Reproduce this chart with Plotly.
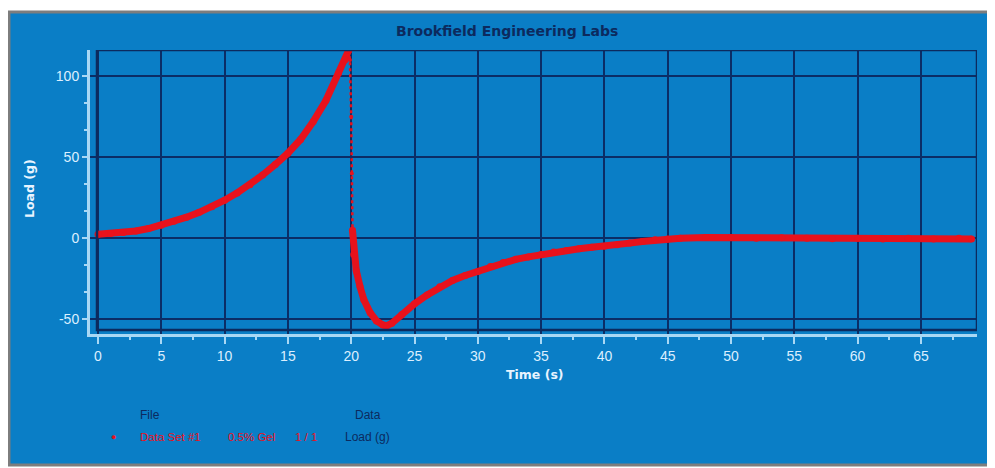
import plotly.graph_objects as go

# ---------------- data ----------------
rise_t = [0, 1, 2, 3, 4, 5, 6, 7, 8, 9, 10, 11, 12, 13, 14, 15, 16, 17, 18, 19, 19.5, 19.8]
rise_load = [2.5, 3, 3.5, 4.5, 6, 8, 10.5, 13, 16, 19.5, 23.5, 28, 33, 39, 45.5, 52.5, 61, 72, 85, 102, 110, 116]

drop_t = [19.8, 19.9, 20.0, 20.05, 20.1]
drop_load = [116, 110, 75, 40, 5]

recov_t = [20.1, 20.2, 20.4, 20.7, 21.0, 21.5, 22.0, 22.5, 22.8, 23.2, 24, 25, 26, 27, 28, 29, 30, 31, 32,
           33, 34, 35, 36, 37, 38, 39, 40, 41, 42, 43, 44, 45, 46, 48, 50, 52, 54, 56, 58, 60, 62, 64,
           66, 68, 69]
recov_load = [5, -10, -20, -30, -38, -46, -51, -53.5, -54, -52.5, -47, -40.5, -35, -30, -26, -23, -20.5,
              -17.5, -15, -13, -11.5, -10, -8.5, -7.5, -6.5, -5.5, -5, -4, -3, -2, -1, -0.5, 0, 0.5,
              0.5, 0, 0.3, 0, -0.3, 0, -0.5, 0, -0.5, 0, -0.5]

x_ticks = [0, 5, 10, 15, 20, 25, 30, 35, 40, 45, 50, 55, 60, 65]
y_ticks = [-50, 0, 50, 100]

title_text = "Brookfield Engineering Labs"
x_title = "Time (s)"
y_title = "Load (g)"
legend_file_items = ["Data Set #1", "0.5% Gel", "1 / 1"]
legend_data_item = "Load (g)"

# ---------------- styling ----------------
O = 8  # page body margin offset
W, H = 995 - O, 468 - O
L, R, T, B = 90 - O, 977 - O, 50 - O, 334 - O
BLUE = "#0a7ec6"
NAVY = "#0c2a5e"
GRID = "#0b2d66"
LIGHT = "#a9d8f5"
TICKTXT = "#dcefff"
RED = "#e8121c"
FONT = "Liberation Sans Narrow, Arial Narrow, Liberation Sans, Arial, sans-serif"
BOLD = "DejaVu Sans, Verdana, sans-serif"
LEG = "Liberation Sans, Arial, sans-serif"

x_range = [-0.632, 69.43]
y_range = [-59.1, 116.2]


def px(x):
    return (x - O - L) / (R - L)


def py(y):
    return (B - (y - O)) / (B - T)


fig = go.Figure()

fig.add_trace(go.Scatter(x=rise_t, y=rise_load, mode="lines+markers",
                         line=dict(color=RED, width=7), marker=dict(color=RED, size=7),
                         showlegend=False, hoverinfo="x+y"))
fig.add_trace(go.Scatter(x=drop_t, y=drop_load, mode="lines+markers",
                         line=dict(color=RED, width=2.5, dash="dot"), marker=dict(color=RED, size=4),
                         showlegend=False, hoverinfo="x+y"))
fig.add_trace(go.Scatter(x=recov_t, y=recov_load, mode="lines+markers",
                         line=dict(color=RED, width=7), marker=dict(color=RED, size=7),
                         showlegend=False, hoverinfo="x+y"))

shapes = [
    dict(type="rect", xref="paper", yref="paper", x0=px(9), x1=px(1004), y0=py(465), y1=py(12),
         fillcolor=BLUE, line=dict(color="#7d7d7d", width=3), layer="below"),
    dict(type="rect", xref="x", yref="y", x0=-0.08, x1=x_range[1], y0=-56.6, y1=y_range[1],
         line=dict(color=NAVY, width=2.5), fillcolor="rgba(0,0,0,0)", layer="above"),
]


def ann(text, x, y, font, xanchor="center", **kw):
    return dict(text=text, x=px(x), y=py(y), xref="paper", yref="paper", xanchor=xanchor,
                yanchor="middle", showarrow=False, font=font, **kw)


annotations = [
    ann(f"<b>{title_text}</b>", 507, 31, dict(family=BOLD, size=14, color=NAVY)),
    ann(f"<b>{x_title}</b>", 535, 374, dict(family=BOLD, size=12.5, color="#e8f4ff")),
    ann(f"<b>{y_title}</b>", 29, 189, dict(family=BOLD, size=12.5, color="#e8f4ff"), textangle=-90),
    ann("File", 150, 415, dict(family=LEG, size=12, color=NAVY)),
    ann("Data", 368, 415, dict(family=LEG, size=12, color=NAVY)),
    ann("●", 113, 437, dict(family=LEG, size=9, color=RED)),
    ann(legend_file_items[0], 138, 437, dict(family=LEG, size=11.5, color=RED), xanchor="left"),
    ann(legend_file_items[1], 226, 437, dict(family=LEG, size=11.5, color=RED), xanchor="left"),
    ann(legend_file_items[2], 293, 437, dict(family=LEG, size=11.5, color=RED), xanchor="left"),
    ann(legend_data_item, 343, 437, dict(family=LEG, size=12, color=NAVY), xanchor="left"),
]

fig.update_layout(
    width=W, height=H,
    margin=dict(l=L, r=W - R, t=T, b=H - B, pad=0),
    paper_bgcolor="white",
    plot_bgcolor="rgba(0,0,0,0)",
    shapes=shapes,
    annotations=annotations,
    showlegend=False,
    xaxis=dict(range=x_range, tickvals=x_ticks, ticktext=[str(v) for v in x_ticks],
               showgrid=True, gridcolor=GRID, gridwidth=2, zeroline=False,
               showline=True, linecolor=LIGHT, linewidth=3,
               ticks="outside", ticklen=7, tickwidth=1.5, tickcolor=LIGHT,
               tickfont=dict(family=FONT, size=14, color=TICKTXT),
               minor=dict(dtick=2.5, tick0=0, ticks="outside", ticklen=3, tickwidth=1.5,
                          tickcolor=LIGHT, showgrid=False),
               fixedrange=True),
    yaxis=dict(range=y_range, tickvals=y_ticks, ticktext=[str(v) for v in y_ticks],
               showgrid=True, gridcolor=GRID, gridwidth=2, zeroline=False,
               showline=True, linecolor=LIGHT, linewidth=3,
               ticks="outside", ticklen=5, tickwidth=1.5, tickcolor=LIGHT,
               tickfont=dict(family=FONT, size=14, color=TICKTXT),
               minor=dict(dtick=50 / 3, tick0=0, ticks="outside", ticklen=3, tickwidth=1.5,
                          tickcolor=LIGHT, showgrid=False),
               fixedrange=True),
)

fig.write_html("out.html")
